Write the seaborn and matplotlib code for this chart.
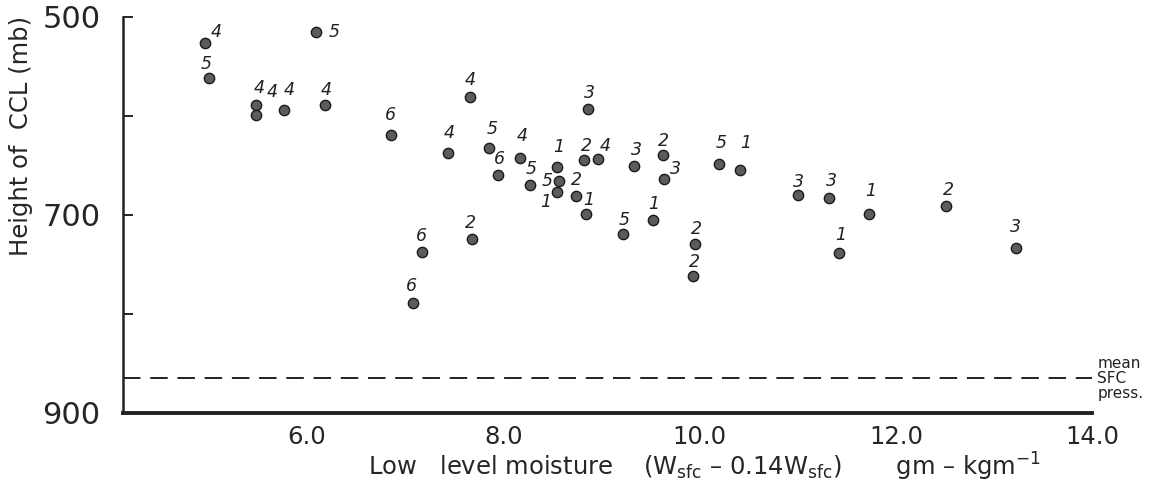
import matplotlib
matplotlib.use('Agg')
import matplotlib.pyplot as plt  # Mostrar gráficos
import seaborn as sns            # Generar gráficos
import pandas as pd              # Generar datos

# Datos
humedad = [4.96, 5.00, 5.48, 5.48, 5.76, 6.09, 6.18, 6.85, 7.66, 8.86,
           7.44, 7.85, 7.94, 8.17, 8.27, 8.55, 8.57, 8.55, 8.82, 8.96,
           8.74, 8.84, 9.33, 9.63, 9.64, 9.22, 9.52, 7.68, 7.17, 7.08,
           10.20, 10.41, 11.00, 11.32, 11.72, 12.51, 13.22, 11.42, 9.95, 9.93]
altura_ccl = [526, 562, 589, 599, 594, 515, 589, 619, 581, 593,
              638, 632, 660, 643, 670, 652, 666, 677, 645, 644,
              681, 699, 651, 640, 664, 719, 705, 724, 738, 789,
              649, 655, 680, 683, 699, 691, 733, 739, 729, 762]
clase = ['4', '5', '4', '4', '4', '5', '4', '6', '4', '3',
         '4', '5', '6', '4', '5', '1', '5', '1', '2', '4',
         '2', '1', '3', '2', '3', '5', '1', '2', '6', '6',
         '5', '1', '3', '3', '1', '2', '3', '1', '2', '2']
presion_media_sfc = 865
ticks_x = [6.0, 8.0, 10.0, 12.0, 14.0]
ticks_y = [500, 700, 900]

# Desplazamiento de cada etiqueta (pixeles, y hacia arriba)
desplazamiento = [(11, 11), (-3, 14), (3, 17), (16, 23), (6, 20), (18, 0), (1, 15), (0, 20), (0, 17), (2, 16),
                  (1, 20), (3, 19), (2, 16), (2, 22), (1, 16), (1, 20), (-12, 0), (-12, -10), (3, 14), (8, 13),
                  (0, 16), (3, 14), (2, 16), (0, 14), (11, 10), (1, 14), (1, 16), (-2, 16), (-1, 16), (-2, 17),
                  (2, 21), (6, 27), (1, 13), (2, 17), (2, 23), (2, 16), (0, 21), (2, 18), (2, 15), (2, 14)]

df = pd.DataFrame({'humedad': humedad, 'ccl': altura_ccl, 'clase': clase})

sns.set_style('ticks')
plt.rcParams['font.family'] = ['DejaVu Sans']

fig = plt.figure(figsize=(11.56, 4.95), dpi=100)
ax = fig.add_axes([0.106, 0.166, 0.839, 0.800])

sns.scatterplot(data=df, x='humedad', y='ccl', color='#5c5c5c', edgecolor='#1a1a1a',
                linewidth=1.0, s=55, zorder=3, ax=ax)

for (x, y, c), (dx, dy) in zip(zip(humedad, altura_ccl, clase), desplazamiento):
    ax.annotate(c, (x, y), xytext=(dx, dy), textcoords='offset pixels',
                ha='center', va='center', fontsize=12.5, style='italic', color='#222222')

# Presión media en superficie
ax.axhline(presion_media_sfc, color='#222222', lw=1.4, linestyle=(0, (9, 5)))
ax.text(14.05, presion_media_sfc, 'mean\nSFC\npress.', ha='left', va='center',
        fontsize=11, linespacing=1.0, color='#222222', clip_on=False)

ax.set_xlim(4.12, 14.0)
ax.set_ylim(900, 500)
ax.set_xticks(ticks_x)
ax.set_xticklabels([f'{t:.1f}' for t in ticks_x])
ax.set_yticks(ticks_y)
ax.set_yticks([600, 800], minor=True)

sns.despine(ax=ax, top=True, right=True)
ax.spines['left'].set_linewidth(1.8)
ax.spines['bottom'].set_linewidth(2.8)
ax.spines['left'].set_color('#222222')
ax.spines['bottom'].set_color('#222222')

ax.tick_params(axis='y', which='both', direction='in', length=7, width=1.4, labelsize=22, pad=16)
ax.tick_params(axis='x', length=0, labelsize=17.5, pad=9)

ax.set_ylabel('Height of  CCL (mb)', fontsize=17.5)
ax.yaxis.set_label_coords(-0.092, 0.70)
ax.set_xlabel(r'Low   level moisture    ($\mathregular{W_{sfc}}$ – 0.14$\mathregular{W_{sfc}}$)       gm – kgm$^{-1}$',
              fontsize=17.5)
ax.xaxis.set_label_coords(0.60, -0.095)

fig.savefig('out.png', dpi=100)
